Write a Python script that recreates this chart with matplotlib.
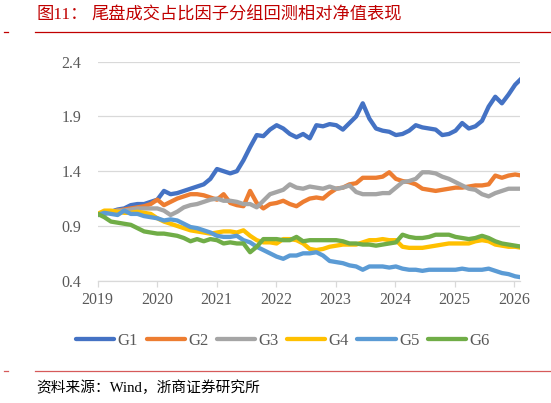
import numpy as np
import matplotlib
matplotlib.use("Agg")
import matplotlib.pyplot as plt
from matplotlib.lines import Line2D

# ---------------- data ----------------
years = np.linspace(2019.0, 2026.13, 65)

g1 = [1.00, 1.01, 1.03, 1.05, 1.06, 1.09, 1.10, 1.10, 1.12, 1.14,
      1.22, 1.19, 1.20, 1.22, 1.24, 1.26, 1.28, 1.33, 1.42, 1.40,
      1.38, 1.40, 1.50, 1.62, 1.73, 1.72, 1.78, 1.82, 1.79, 1.74,
      1.71, 1.74, 1.70, 1.82, 1.81, 1.83, 1.82, 1.78, 1.84, 1.90,
      2.02, 1.88, 1.79, 1.77, 1.76, 1.73, 1.74, 1.77, 1.82, 1.80,
      1.79, 1.78, 1.73, 1.74, 1.77, 1.84, 1.79, 1.81, 1.86, 1.99,
      2.08, 2.02, 2.10, 2.19, 2.25]
g2 = [1.00, 1.02, 1.03, 1.04, 1.05, 1.06, 1.07, 1.08, 1.10, 1.14,
      1.09, 1.12, 1.15, 1.17, 1.19, 1.19, 1.18, 1.16, 1.14, 1.19,
      1.11, 1.09, 1.08, 1.22, 1.11, 1.06, 1.10, 1.11, 1.13, 1.10,
      1.08, 1.12, 1.15, 1.16, 1.15, 1.20, 1.24, 1.25, 1.28, 1.29,
      1.34, 1.34, 1.34, 1.35, 1.39, 1.33, 1.31, 1.30, 1.28, 1.24,
      1.23, 1.22, 1.23, 1.24, 1.25, 1.25, 1.26, 1.27, 1.27, 1.28,
      1.36, 1.34, 1.36, 1.37, 1.36]
g3 = [1.00, 1.01, 1.03, 1.04, 1.04, 1.05, 1.06, 1.06, 1.06, 1.06,
      1.04, 1.00, 1.03, 1.07, 1.09, 1.10, 1.12, 1.14, 1.15, 1.13,
      1.13, 1.12, 1.10, 1.10, 1.07, 1.13, 1.19, 1.21, 1.23, 1.28,
      1.25, 1.24, 1.26, 1.25, 1.24, 1.26, 1.24, 1.25, 1.27, 1.21,
      1.19, 1.19, 1.19, 1.20, 1.20, 1.25, 1.30, 1.31, 1.33, 1.39,
      1.39, 1.38, 1.35, 1.33, 1.30, 1.27, 1.24, 1.23, 1.19, 1.17,
      1.20, 1.22, 1.24, 1.24, 1.24]
g4 = [1.01, 1.04, 1.04, 1.03, 1.02, 1.02, 1.03, 1.02, 1.01, 0.97,
      0.94, 0.92, 0.90, 0.88, 0.86, 0.85, 0.84, 0.83, 0.84, 0.85,
      0.85, 0.84, 0.86, 0.81, 0.77, 0.75, 0.75, 0.74, 0.78, 0.78,
      0.77, 0.74, 0.69, 0.68, 0.69, 0.71, 0.72, 0.73, 0.73, 0.73,
      0.75, 0.77, 0.77, 0.78, 0.77, 0.77, 0.71, 0.70, 0.70, 0.70,
      0.71, 0.72, 0.73, 0.74, 0.74, 0.74, 0.74, 0.76, 0.77, 0.76,
      0.73, 0.72, 0.71, 0.71, 0.70]
g5 = [1.00, 1.02, 1.01, 1.00, 1.04, 1.01, 1.01, 0.99, 0.98, 0.97,
      0.95, 0.96, 0.95, 0.92, 0.89, 0.88, 0.86, 0.84, 0.81, 0.80,
      0.80, 0.81, 0.77, 0.75, 0.71, 0.68, 0.65, 0.62, 0.60, 0.63,
      0.63, 0.65, 0.65, 0.66, 0.63, 0.58, 0.57, 0.56, 0.54, 0.53,
      0.50, 0.53, 0.53, 0.53, 0.52, 0.53, 0.51, 0.50, 0.50, 0.49,
      0.50, 0.50, 0.50, 0.50, 0.50, 0.51, 0.50, 0.50, 0.50, 0.51,
      0.49, 0.47, 0.46, 0.44, 0.43]
g6 = [1.01, 0.98, 0.94, 0.93, 0.92, 0.91, 0.88, 0.85, 0.84, 0.83,
      0.83, 0.82, 0.81, 0.79, 0.76, 0.78, 0.76, 0.78, 0.77, 0.74,
      0.75, 0.74, 0.74, 0.66, 0.71, 0.78, 0.78, 0.78, 0.77, 0.77,
      0.80, 0.76, 0.77, 0.77, 0.77, 0.77, 0.77, 0.76, 0.74, 0.74,
      0.73, 0.73, 0.72, 0.73, 0.74, 0.75, 0.82, 0.80, 0.79, 0.79,
      0.80, 0.82, 0.82, 0.82, 0.80, 0.79, 0.78, 0.79, 0.81, 0.79,
      0.76, 0.74, 0.73, 0.72, 0.71]

series_names = ["G1", "G2", "G3", "G4", "G5", "G6"]
series_values = [g1, g2, g3, g4, g5, g6]
colors = ["#4472C4", "#ED7D31", "#A5A5A5", "#FFC000", "#5B9BD5", "#70AD47"]

x_ticks = [2019, 2020, 2021, 2022, 2023, 2024, 2025, 2026]
y_ticks = [0.4, 0.9, 1.4, 1.9, 2.4]

title_prefix = "图11："
title_text = "尾盘成交占比因子分组回测相对净值表现"
source_text = "资料来源：Wind，浙商证券研究所"

# ---------------- figure ----------------
W, H = 551, 403
fig = plt.figure(figsize=(W / 100, H / 100), dpi=100)
fam = ["Liberation Serif", "Noto Sans CJK SC", "DejaVu Sans"]

ax = fig.add_axes([97.7 / W, 1 - 280.7 / H, (520 - 97.7) / W, (280.7 - 61.7) / H])
for name, vals, c in zip(series_names, series_values, colors):
    ax.plot(years, vals, color=c, lw=3.1, solid_capstyle="round", label=name)

ax.set_xlim(2019.0, 2026.1)
ax.set_ylim(0.4, 2.4)
ax.set_xticks(x_ticks)
ax.set_xticklabels([str(t) for t in x_ticks])
ax.set_yticks(y_ticks)
ax.set_yticklabels([f"{t:.1f}" for t in y_ticks])
ax.grid(axis="y", color="#D9D9D9", lw=0.9)
ax.set_axisbelow(True)
for s in ["top", "right", "left"]:
    ax.spines[s].set_visible(False)
ax.spines["bottom"].set_color("#D9D9D9")
ax.spines["bottom"].set_linewidth(0.9)
ax.tick_params(axis="y", length=0, pad=12, labelsize=11.5, labelcolor="#595959")
ax.tick_params(axis="x", length=4, width=0.9, color="#D9D9D9", pad=4,
               labelsize=11.5, labelcolor="#595959")
for lab in ax.get_xticklabels() + ax.get_yticklabels():
    lab.set_family(fam)

handles = [Line2D([0], [0], color=c, lw=3.1, solid_capstyle="round") for c in colors]
leg = fig.legend(handles, series_names, loc="center", bbox_to_anchor=(283 / W, 1 - 341 / H),
                 ncol=6, frameon=False, handlelength=2.3, handletextpad=0.2,
                 columnspacing=0.5, prop={"family": fam, "size": 12})
for t in leg.get_texts():
    t.set_color("#595959")

# title
red = "#C00000"
fig.text(37 / W, 1 - 15.5 / H, title_prefix, color=red, fontsize=12.4, family=fam,
         ha="left", va="center")
fig.text(91.7 / W, 1 - 15.5 / H, title_text, color=red, fontsize=12.4, family=fam,
         ha="left", va="center")
fig.add_artist(Line2D([35 / W, 1.0], [1 - 31.5 / H] * 2, color=red, lw=0.9))
fig.add_artist(Line2D([4 / W, 8 / W], [1 - 32 / H] * 2, color=red, lw=0.9))

# bottom
red2 = "#D65A5A"
fig.add_artist(Line2D([35 / W, 1.0], [1 - 370.5 / H] * 2, color=red2, lw=0.9))
fig.add_artist(Line2D([4 / W, 8 / W], [1 - 371 / H] * 2, color=red2, lw=0.9))
fig.text(36 / W, 1 - 388 / H, source_text, color="black", fontsize=10.6, family=fam,
         ha="left", va="center")

fig.savefig("out.png", dpi=100)
